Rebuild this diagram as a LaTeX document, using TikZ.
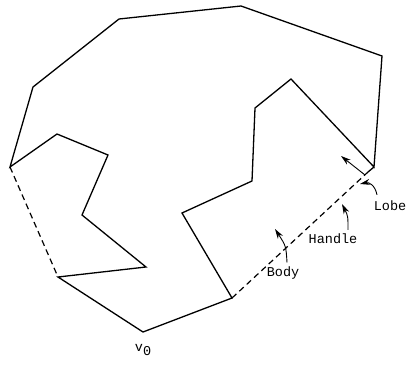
\documentclass[tikz,border=0pt]{standalone}
\usepackage{fontspec}
\setmonofont{Liberation Mono}
\usetikzlibrary{arrows.meta}
\tikzset{
  edge/.style={line width=1.3pt, line join=miter},
  chord/.style={line width=1.2pt, dash pattern=on 6pt off 4pt},
  pointer/.style={line width=0.9pt, -{Stealth[length=10pt,width=6pt]}},
  lbl/.style={font=\ttfamily\fontsize{13.5}{15}\selectfont, inner sep=1pt}
}
\begin{document}
\begin{tikzpicture}[x=1pt,y=-1pt]
  \useasboundingbox (0,0) rectangle (409,367);
  % polygon vertices
  \coordinate (v0) at (143,332);
  \coordinate (p1) at (232,298);
  \coordinate (p2) at (182,213);
  \coordinate (p3) at (252,181);
  \coordinate (p4) at (255,108);
  \coordinate (p5) at (291,79);
  \coordinate (lb) at (374,167);
  \coordinate (p6) at (382,56);
  \coordinate (p7) at (241,6);
  \coordinate (p8) at (119,19);
  \coordinate (p9) at (33,87);
  \coordinate (p10) at (10,167);
  \coordinate (p11) at (57,134);
  \coordinate (p12) at (108,155);
  \coordinate (p13) at (82,215);
  \coordinate (p14) at (146,267);
  \coordinate (p15) at (58,277);
  \coordinate (le) at (368,172);
  \draw[edge] (v0) -- (p1) -- (p2) -- (p3) -- (p4) -- (p5) -- (lb) -- (p6) -- (p7)
    -- (p8) -- (p9) -- (p10) -- (p11) -- (p12) -- (p13) -- (p14) -- (p15) -- cycle;
  \draw[edge] (lb) -- (le);
  % dashed chords
  \draw[chord] (p10) -- (p15);
  \draw[chord] (p1) -- (le);
  % labels
  \node[lbl] (lobe) at (390,206) {Lobe};
  \node[lbl] (handle) at (333,239) {Handle};
  \node[lbl] (body) at (283,273) {Body};
  \node[lbl] (vlab) at (143,350) {v\raisebox{-4pt}{0}};
  % pointers
  \coordinate (lobetip) at (360,184);
  \coordinate (intip) at (341,156);
  \coordinate (handletip) at (342,204);
  \coordinate (bodytip) at (275,229);
  \draw[pointer] ([xshift=-13pt,yshift=5pt]lobe.north) .. controls (375,185) and (369,182) .. (lobetip);
  \draw[pointer] (le) ++(-3,3) -- (intip);
  \draw[pointer] ([xshift=15pt,yshift=3pt]handle.north) .. controls (348,216) .. (handletip);
  \draw[pointer] ([xshift=4pt,yshift=3pt]body.north) .. controls (286,246) .. (bodytip);
\end{tikzpicture}
\end{document}
